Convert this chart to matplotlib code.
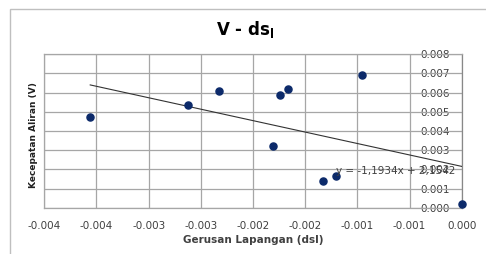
import matplotlib as mpl
mpl.use('Agg')
import matplotlib.pyplot as plt
from matplotlib.patches import Rectangle

# data
dsl = [-0.00356, -0.00262, -0.00233, -0.00174, -0.00166, -0.000955,
       -0.00181, -0.00133, -0.00120, 0.0000]
v = [0.00472, 0.00536, 0.00607, 0.00589, 0.00621, 0.00691,
     0.00322, 0.00141, 0.00167, 0.00018]
slope = -1.1934
intercept = 0.0021542
xticks = [-0.004, -0.0035, -0.003, -0.0025, -0.002, -0.0015, -0.001, -0.0005, 0.0]
xticklabels = ['-0.004', '-0.004', '-0.003', '-0.003', '-0.002', '-0.002',
               '-0.001', '-0.001', '0.000']
yticks = [0.000, 0.001, 0.002, 0.003, 0.004, 0.005, 0.006, 0.007, 0.008]
yticklabels = ['%.3f' % t for t in yticks]

fig = plt.figure(figsize=(4.86, 2.55), dpi=100)
W, H = 486.0, 255.0
ax = fig.add_axes([44.3 / W, 1 - 208.7 / H, (461.7 - 44.3) / W, (208.7 - 55.3) / H])

gc = '#a6a6a6'
ax.set_xlim(-0.004, 0.0)
ax.set_ylim(0.0, 0.008)
ax.set_xticks(xticks)
ax.set_xticklabels(xticklabels, fontsize=7.5, color='#404040')
ax.set_yticks(yticks)
ax.set_yticklabels([])
ax.tick_params(axis='x', length=0, pad=9)
ax.tick_params(axis='y', length=0)
ax.grid(True, color=gc, lw=0.9, zorder=0)
for s in ax.spines.values():
    s.set_color(gc)
    s.set_linewidth(0.9)
ax.spines['right'].set_color('#888888')

# y tick labels sit inside the plot, left of the axis at x=0
for t, lab in zip(yticks, yticklabels):
    ax.text(-0.00011, t, lab, ha='right', va='center', fontsize=7.5,
            color='#404040', zorder=1)

ax.scatter(dsl, v, s=26, color='#0c2a6a', zorder=4, clip_on=False)

x0, x1 = min(dsl), max(dsl)
ax.plot([x0, x1], [slope * x0 + intercept, slope * x1 + intercept],
        color='#333333', lw=0.8, zorder=3)
ax.text(-0.00120, 0.00198, 'y = -1,1934x + 2,1542', fontsize=7.5,
        color='#404040', ha='left', va='center', zorder=5)

ax.set_xlabel('Gerusan Lapangan (dsl)', fontsize=7.5, fontweight='bold',
              color='#404040', labelpad=3)
fig.text(33 / W, 1 - 135 / H, 'Kecepatan Aliran (V)', rotation=90, fontsize=6.5,
         fontweight='bold', ha='center', va='center', color='#202020')
fig.text(245 / W, 1 - 30 / H, r'V - ds$_\mathbf{l}$', fontsize=12, fontweight='bold',
         ha='center', va='center')

fig.patches.append(Rectangle((10 / W, -0.1), 1.0, 1 - 10 / H + 0.1,
                             transform=fig.transFigure, fill=False,
                             edgecolor='#bfbfbf', lw=1))

fig.savefig('out.png', dpi=100)
